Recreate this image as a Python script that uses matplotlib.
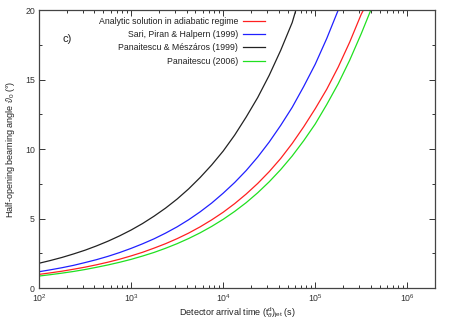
import numpy as np
import matplotlib
matplotlib.use("Agg")
import matplotlib.pyplot as plt
from matplotlib.ticker import LogLocator, MultipleLocator, NullFormatter

plt.rcParams['font.family'] = ['Liberation Sans', 'DejaVu Sans']
plt.rcParams['mathtext.fontset'] = 'custom'
plt.rcParams['mathtext.rm'] = 'Liberation Sans'
plt.rcParams['mathtext.it'] = 'Liberation Sans:italic'

# log10 of detector arrival time (s) and half-opening angle (deg)
logt_black = [2.0, 2.125, 2.25, 2.375, 2.5, 2.625, 2.75, 2.875, 3.0, 3.125, 3.25, 3.375,
              3.5, 3.625, 3.75, 3.875, 4.0, 4.125, 4.25, 4.375, 4.5, 4.625, 4.75, 4.79]
black = [1.78, 1.98, 2.20, 2.45, 2.72, 3.03, 3.37, 3.75, 4.17, 4.64, 5.17, 5.75,
         6.40, 7.13, 7.95, 8.85, 9.85, 11.0, 12.3, 13.7, 15.3, 17.1, 19.1, 20.0]

logt_blue = [2.0, 2.125, 2.25, 2.375, 2.5, 2.625, 2.75, 2.875, 3.0, 3.125, 3.25, 3.375,
             3.5, 3.625, 3.75, 3.875, 4.0, 4.125, 4.25, 4.375, 4.5, 4.625, 4.75, 4.875,
             5.0, 5.125, 5.25]
blue = [1.17, 1.31, 1.46, 1.63, 1.83, 2.04, 2.28, 2.55, 2.85, 3.18, 3.54, 3.95,
        4.40, 4.91, 5.48, 6.11, 6.82, 7.59, 8.45, 9.42, 10.5, 11.7, 13.0, 14.5,
        16.1, 17.95, 20.0]

logt_red = [2.0, 2.125, 2.25, 2.375, 2.5, 2.625, 2.75, 2.875, 3.0, 3.125, 3.25, 3.375,
            3.5, 3.625, 3.75, 3.875, 4.0, 4.125, 4.25, 4.375, 4.5, 4.625, 4.75, 4.875,
            5.0, 5.125, 5.25, 5.375, 5.5, 5.524]
red = [0.98, 1.09, 1.21, 1.35, 1.50, 1.67, 1.86, 2.07, 2.31, 2.57, 2.87, 3.19,
       3.55, 3.95, 4.40, 4.90, 5.45, 6.07, 6.76, 7.52, 8.37, 9.32, 10.4, 11.6,
       12.9, 14.3, 15.9, 17.7, 19.7, 20.0]

logt_green = [2.0, 2.125, 2.25, 2.375, 2.5, 2.625, 2.75, 2.875, 3.0, 3.125, 3.25, 3.375,
              3.5, 3.625, 3.75, 3.875, 4.0, 4.125, 4.25, 4.375, 4.5, 4.625, 4.75, 4.875,
              5.0, 5.125, 5.25, 5.375, 5.5, 5.604]
green = [0.86, 0.96, 1.07, 1.19, 1.33, 1.49, 1.66, 1.85, 2.06, 2.30, 2.56, 2.86,
         3.19, 3.56, 3.97, 4.43, 4.94, 5.51, 6.14, 6.85, 7.64, 8.52, 9.50, 10.6,
         11.8, 13.2, 14.7, 16.4, 18.3, 20.0]

labels = ["Analytic solution in adiabatic regime",
          "Sari, Piran & Halpern (1999)",
          "Panaitescu & Mészáros (1999)",
          "Panaitescu (2006)"]
colors = ["#ff2020", "#2020ff", "#222222", "#20e020"]

fig = plt.figure(figsize=(4.5, 3.21), dpi=100)
ax = fig.add_axes([0.0867, 0.1028, 0.88, 0.866])

series = [(logt_red, red), (logt_blue, blue), (logt_black, black), (logt_green, green)]
for (lt, v), lab, c in zip(series, labels, colors):
    ax.plot(10 ** np.array(lt), v, color=c, lw=0.9, label=lab)

ax.set_xscale('log')
ax.set_xlim(1e2, 2e6)
ax.set_ylim(0, 20)
ax.xaxis.set_major_locator(LogLocator(base=10, numticks=10))
ax.xaxis.set_minor_locator(LogLocator(base=10, subs=np.arange(2, 10), numticks=20))
ax.xaxis.set_minor_formatter(NullFormatter())
ax.yaxis.set_major_locator(MultipleLocator(5))
ax.yaxis.set_minor_locator(MultipleLocator(2.5))

ax.tick_params(which='both', direction='in', top=True, right=True,
               labelsize=6.3, colors='#333333', width=0.7)
ax.tick_params(which='major', length=4, pad=3)
ax.tick_params(which='minor', length=2)
for s in ax.spines.values():
    s.set_color('#444444')
    s.set_linewidth(0.9)

ax.set_xlabel(r"Detector arrival time $(\mathrm{t}^{\mathrm{d}}_{\theta})_{\mathrm{jet}}$ (s)",
              fontsize=6.5, color='#222222', labelpad=1)
ax.set_ylabel(r"Half-opening beaming angle $\vartheta_0$ (°)",
              fontsize=6.5, color='#222222', labelpad=6)

ax.text(10 ** 2.26, 17.9, "c)", fontsize=8, color='#222222', ha='left', va='center')

leg = ax.legend(loc='upper right', bbox_to_anchor=(0.585, 0.995), frameon=False,
                markerfirst=False, fontsize=6.3, handlelength=2.6,
                labelspacing=0.5, handletextpad=0.5, borderaxespad=0.2)
for t in leg.get_texts():
    t.set_ha('right')
    t.set_color('#222222')
leg._legend_box.align = 'right'

fig.savefig("out.png", dpi=100)
